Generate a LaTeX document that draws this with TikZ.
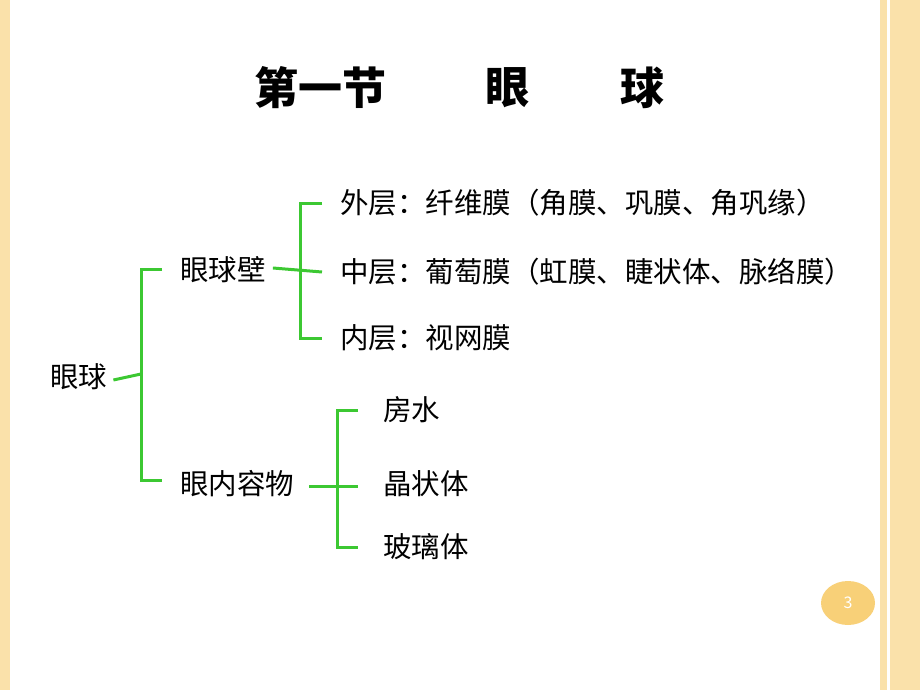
\documentclass[tikz,border=0pt]{standalone}
\usepackage{fontspec}
\setmainfont{Noto Sans CJK SC}
\definecolor{brgreen}{RGB}{60,200,50}
\definecolor{stripe}{RGB}{250,225,170}
\definecolor{badge}{RGB}{248,208,120}
\tikzset{
  lbl/.style={anchor=west,inner sep=0pt,font=\fontsize{28.5}{30}\selectfont},
  ttl/.style={font=\bfseries\fontsize{44}{48}\selectfont},
  brk/.style={brgreen,line width=3pt}
}
\begin{document}
\begin{tikzpicture}[x=1pt,y=-1pt]
\useasboundingbox (0,0) rectangle (920,690);
% border stripes
\fill[stripe] (0,0) rectangle (10,690);
\fill[stripe] (880,0) rectangle (887,690);
\fill[stripe] (890,0) rectangle (920,690);
\fill[badge] (848,603) ellipse (27 and 22);
\node[white,font=\fontsize{16}{18}\selectfont] (pg) at (848,603) {3};
% title
\node[ttl] (t1) at (320,88) {第一节};
\node[ttl] (t2) at (507,88) {眼};
\node[ttl] (t3) at (642,88) {球};
% nodes
\node[lbl] (eye) at (50,377) {眼球};
\node[lbl] (wall) at (180,270) {眼球壁};
\node[lbl] (cont) at (180,484) {眼内容物};
\node[lbl] (outer) at (340,203) {外层：纤维膜（角膜、巩膜、角巩缘）};
\node[lbl] (mid) at (340,272) {中层：葡萄膜（虹膜、睫状体、脉络膜）};
\node[lbl] (inner) at (340,338) {内层：视网膜};
\node[lbl] (aq) at (383,410) {房水};
\node[lbl] (lens) at (383,484) {晶状体};
\node[lbl] (vit) at (383,547) {玻璃体};
% brackets
\coordinate (b1) at (141,374);
\draw[brk] ([xshift=6pt,yshift=-3pt]eye.east) -- (b1);
\draw[brk] ([xshift=-18pt,yshift=1pt]wall.west) -| (b1) |- ([xshift=-18pt,yshift=4pt]cont.west);
\coordinate (b2) at (300,272);
\draw[brk] ([xshift=7pt,yshift=2pt]wall.east) -- ([xshift=-18pt]mid.west);
\draw[brk] ([xshift=-18pt]outer.west) -| (b2) |- ([xshift=-18pt]inner.west);
\coordinate (b3) at (337,482);
\draw[brk] ([xshift=15pt,yshift=-2pt]cont.east) -- ([xshift=-25pt,yshift=-2pt]lens.west);
\draw[brk] ([xshift=-25pt]aq.west) -| (b3) |- ([xshift=-25pt]vit.west);
\end{tikzpicture}
\end{document}
